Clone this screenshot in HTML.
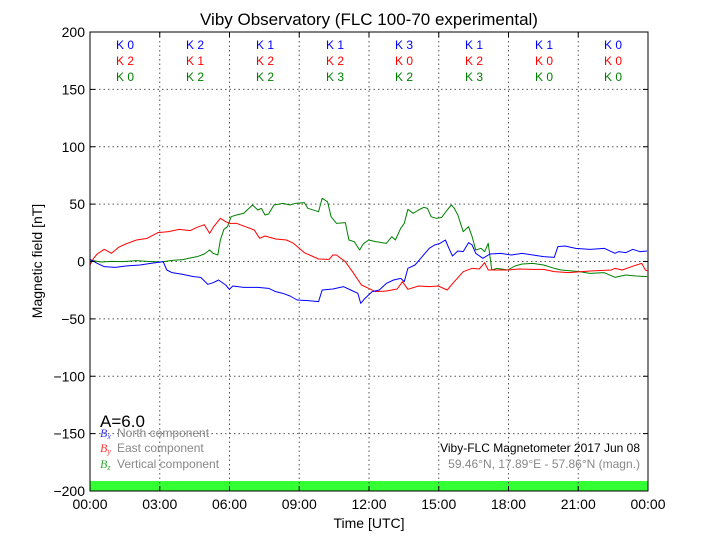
<!DOCTYPE html>
<html><head><meta charset="utf-8"><style>
html,body{margin:0;padding:0;background:#fff;}
svg{display:block;font-family:"Liberation Sans",sans-serif;}
</style></head><body>
<svg width="720" height="540" viewBox="0 0 720 540" xmlns="http://www.w3.org/2000/svg">
<rect width="720" height="540" fill="#fff"/>
<text x="369" y="25" font-size="17" text-anchor="middle">Viby Observatory (FLC 100-70 experimental)</text>
<rect x="90" y="481" width="558" height="10" fill="#33ff33"/>
<g stroke="#555" stroke-width="1" stroke-dasharray="1.5,3" fill="none">
<line x1="159.75" y1="32" x2="159.75" y2="491"/><line x1="229.5" y1="32" x2="229.5" y2="491"/>
<line x1="299.25" y1="32" x2="299.25" y2="491"/><line x1="369" y1="32" x2="369" y2="491"/>
<line x1="438.75" y1="32" x2="438.75" y2="491"/><line x1="508.5" y1="32" x2="508.5" y2="491"/>
<line x1="578.25" y1="32" x2="578.25" y2="491"/>
<line x1="90" y1="89.4" x2="648" y2="89.4"/><line x1="90" y1="146.75" x2="648" y2="146.75"/>
<line x1="90" y1="204.1" x2="648" y2="204.1"/><line x1="90" y1="261.5" x2="648" y2="261.5"/>
<line x1="90" y1="318.9" x2="648" y2="318.9"/><line x1="90" y1="376.25" x2="648" y2="376.25"/>
<line x1="90" y1="433.6" x2="648" y2="433.6"/>
</g>
<g transform="translate(90,190) scale(0.35714,0.33333)" fill="none" stroke-width="1" stroke-linejoin="round">
<polyline vector-effect="non-scaling-stroke" stroke="#008000" points="0,210 30,216 60,214 90,215 130,212 160,214 200,216 230,211 260,209 280,204 300,200 320,192 335,180 345,190 358,195 365,150 375,118 385,110 395,80 410,75 430,70 455,45 470,60 480,55 490,75 500,72 515,45 540,40 560,45 575,40 600,38 610,55 640,65 650,25 665,35 675,80 690,100 715,98 725,150 740,155 755,180 765,162 780,150 800,155 830,160 845,140 855,150 870,115 880,100 890,58 905,70 920,60 935,52 945,55 955,80 970,85 985,82 1000,60 1012,45 1020,55 1030,75 1045,125 1060,110 1070,140 1080,180 1095,175 1105,185 1115,160 1125,240 1140,235 1170,240 1190,228 1210,222 1240,220 1270,225 1300,235 1320,240 1370,245 1400,250 1440,248 1470,262 1500,255 1530,258 1560,260"/>
<polyline vector-effect="non-scaling-stroke" stroke="#ff0000" points="0,225 10,205 20,192 40,178 60,190 80,172 100,162 130,150 160,145 190,128 220,125 250,118 280,122 300,112 320,104 335,130 345,112 365,85 380,95 390,100 410,100 440,112 460,120 475,145 490,138 520,147 550,150 570,160 600,188 640,207 670,208 680,195 690,195 715,215 735,245 760,285 780,295 800,305 830,303 860,297 875,275 890,298 920,288 950,290 975,288 1000,300 1020,275 1045,245 1070,235 1090,237 1105,218 1115,240 1140,240 1170,240 1200,237 1240,238 1270,238 1300,245 1340,248 1400,243 1460,240 1470,235 1490,240 1530,225 1545,220 1555,240 1560,242"/>
<polyline vector-effect="non-scaling-stroke" stroke="#0000ff" points="0,208 20,220 40,230 70,232 100,228 140,225 170,220 205,215 215,240 230,248 260,253 290,260 310,262 330,283 345,278 360,270 380,285 390,298 400,288 430,292 470,292 500,295 520,305 540,310 560,318 580,330 610,332 640,335 650,300 680,297 710,290 730,300 750,310 758,340 770,325 780,315 790,305 810,300 830,280 850,270 870,265 880,275 890,235 910,225 930,200 950,175 965,165 980,160 995,150 1005,175 1015,198 1030,183 1045,185 1060,158 1070,165 1080,190 1100,205 1120,192 1150,190 1180,195 1210,190 1240,195 1270,200 1300,202 1310,170 1330,168 1360,175 1400,178 1440,175 1470,190 1480,185 1500,188 1520,178 1540,185 1560,183"/>
</g>
<rect x="90" y="32" width="558" height="459" fill="none" stroke="#000" stroke-width="1"/>
<g stroke="#000" stroke-width="1">
<line x1="90" y1="89.4" x2="95" y2="89.4"/><line x1="90" y1="146.75" x2="95" y2="146.75"/><line x1="90" y1="204.1" x2="95" y2="204.1"/><line x1="90" y1="261.5" x2="95" y2="261.5"/><line x1="90" y1="318.9" x2="95" y2="318.9"/><line x1="90" y1="376.25" x2="95" y2="376.25"/><line x1="90" y1="433.6" x2="95" y2="433.6"/>
<line x1="648" y1="89.4" x2="643" y2="89.4"/><line x1="648" y1="146.75" x2="643" y2="146.75"/><line x1="648" y1="204.1" x2="643" y2="204.1"/><line x1="648" y1="261.5" x2="643" y2="261.5"/><line x1="648" y1="318.9" x2="643" y2="318.9"/><line x1="648" y1="376.25" x2="643" y2="376.25"/><line x1="648" y1="433.6" x2="643" y2="433.6"/>
<line x1="159.75" y1="32" x2="159.75" y2="37"/><line x1="229.5" y1="32" x2="229.5" y2="37"/><line x1="299.25" y1="32" x2="299.25" y2="37"/><line x1="369" y1="32" x2="369" y2="37"/><line x1="438.75" y1="32" x2="438.75" y2="37"/><line x1="508.5" y1="32" x2="508.5" y2="37"/><line x1="578.25" y1="32" x2="578.25" y2="37"/>
<line x1="159.75" y1="491" x2="159.75" y2="486"/><line x1="229.5" y1="491" x2="229.5" y2="486"/><line x1="299.25" y1="491" x2="299.25" y2="486"/><line x1="369" y1="491" x2="369" y2="486"/><line x1="438.75" y1="491" x2="438.75" y2="486"/><line x1="508.5" y1="491" x2="508.5" y2="486"/><line x1="578.25" y1="491" x2="578.25" y2="486"/>
</g>
<g font-size="14" text-anchor="end">
<text x="85" y="37">200</text><text x="85" y="94.4">150</text><text x="85" y="151.75">100</text><text x="85" y="209.1">50</text><text x="85" y="266.5">0</text><text x="85" y="323.9">−50</text><text x="85" y="381.25">−100</text><text x="85" y="438.6">−150</text><text x="85" y="496">−200</text>
</g>
<g font-size="14" text-anchor="middle">
<text x="90" y="509">00:00</text><text x="159.75" y="509">03:00</text><text x="229.5" y="509">06:00</text><text x="299.25" y="509">09:00</text><text x="369" y="509">12:00</text><text x="438.75" y="509">15:00</text><text x="508.5" y="509">18:00</text><text x="578.25" y="509">21:00</text><text x="648" y="509">00:00</text>
<text x="369" y="528">Time [UTC]</text>
</g>
<text transform="translate(42,261) rotate(-90)" font-size="14" text-anchor="middle">Magnetic field [nT]</text>
<g font-size="12" text-anchor="middle">
<g fill="#0000ff"><text x="125" y="49">K 0</text><text x="195" y="49">K 2</text><text x="265" y="49">K 1</text><text x="335" y="49">K 1</text><text x="404" y="49">K 3</text><text x="474" y="49">K 1</text><text x="544" y="49">K 1</text><text x="613" y="49">K 0</text></g>
<g fill="#ff0000"><text x="125" y="65">K 2</text><text x="195" y="65">K 1</text><text x="265" y="65">K 2</text><text x="335" y="65">K 2</text><text x="404" y="65">K 0</text><text x="474" y="65">K 2</text><text x="544" y="65">K 0</text><text x="613" y="65">K 0</text></g>
<g fill="#008000"><text x="125" y="81">K 0</text><text x="195" y="81">K 2</text><text x="265" y="81">K 2</text><text x="335" y="81">K 3</text><text x="404" y="81">K 2</text><text x="474" y="81">K 3</text><text x="544" y="81">K 0</text><text x="613" y="81">K 0</text></g>
</g>
<text x="100" y="427" font-size="17">A=6.0</text>
<g font-size="12">
<text x="100" y="437" fill="#3333ff" font-family="Liberation Serif,serif" font-style="italic">B<tspan font-size="8" dy="2">x</tspan></text><text x="117" y="437" fill="#888">North component</text>
<text x="100" y="452" fill="#ff3333" font-family="Liberation Serif,serif" font-style="italic">B<tspan font-size="8" dy="2">y</tspan></text><text x="117" y="452" fill="#888">East component</text>
<text x="100" y="468" fill="#33aa33" font-family="Liberation Serif,serif" font-style="italic">B<tspan font-size="8" dy="2">z</tspan></text><text x="117" y="468" fill="#888">Vertical component</text>
<text x="640" y="452" text-anchor="end" fill="#000">Viby-FLC Magnetometer 2017 Jun 08</text>
<text x="640" y="468" text-anchor="end" fill="#888">59.46°N, 17.89°E - 57.86°N (magn.)</text>
</g>
</svg>
</body></html>
